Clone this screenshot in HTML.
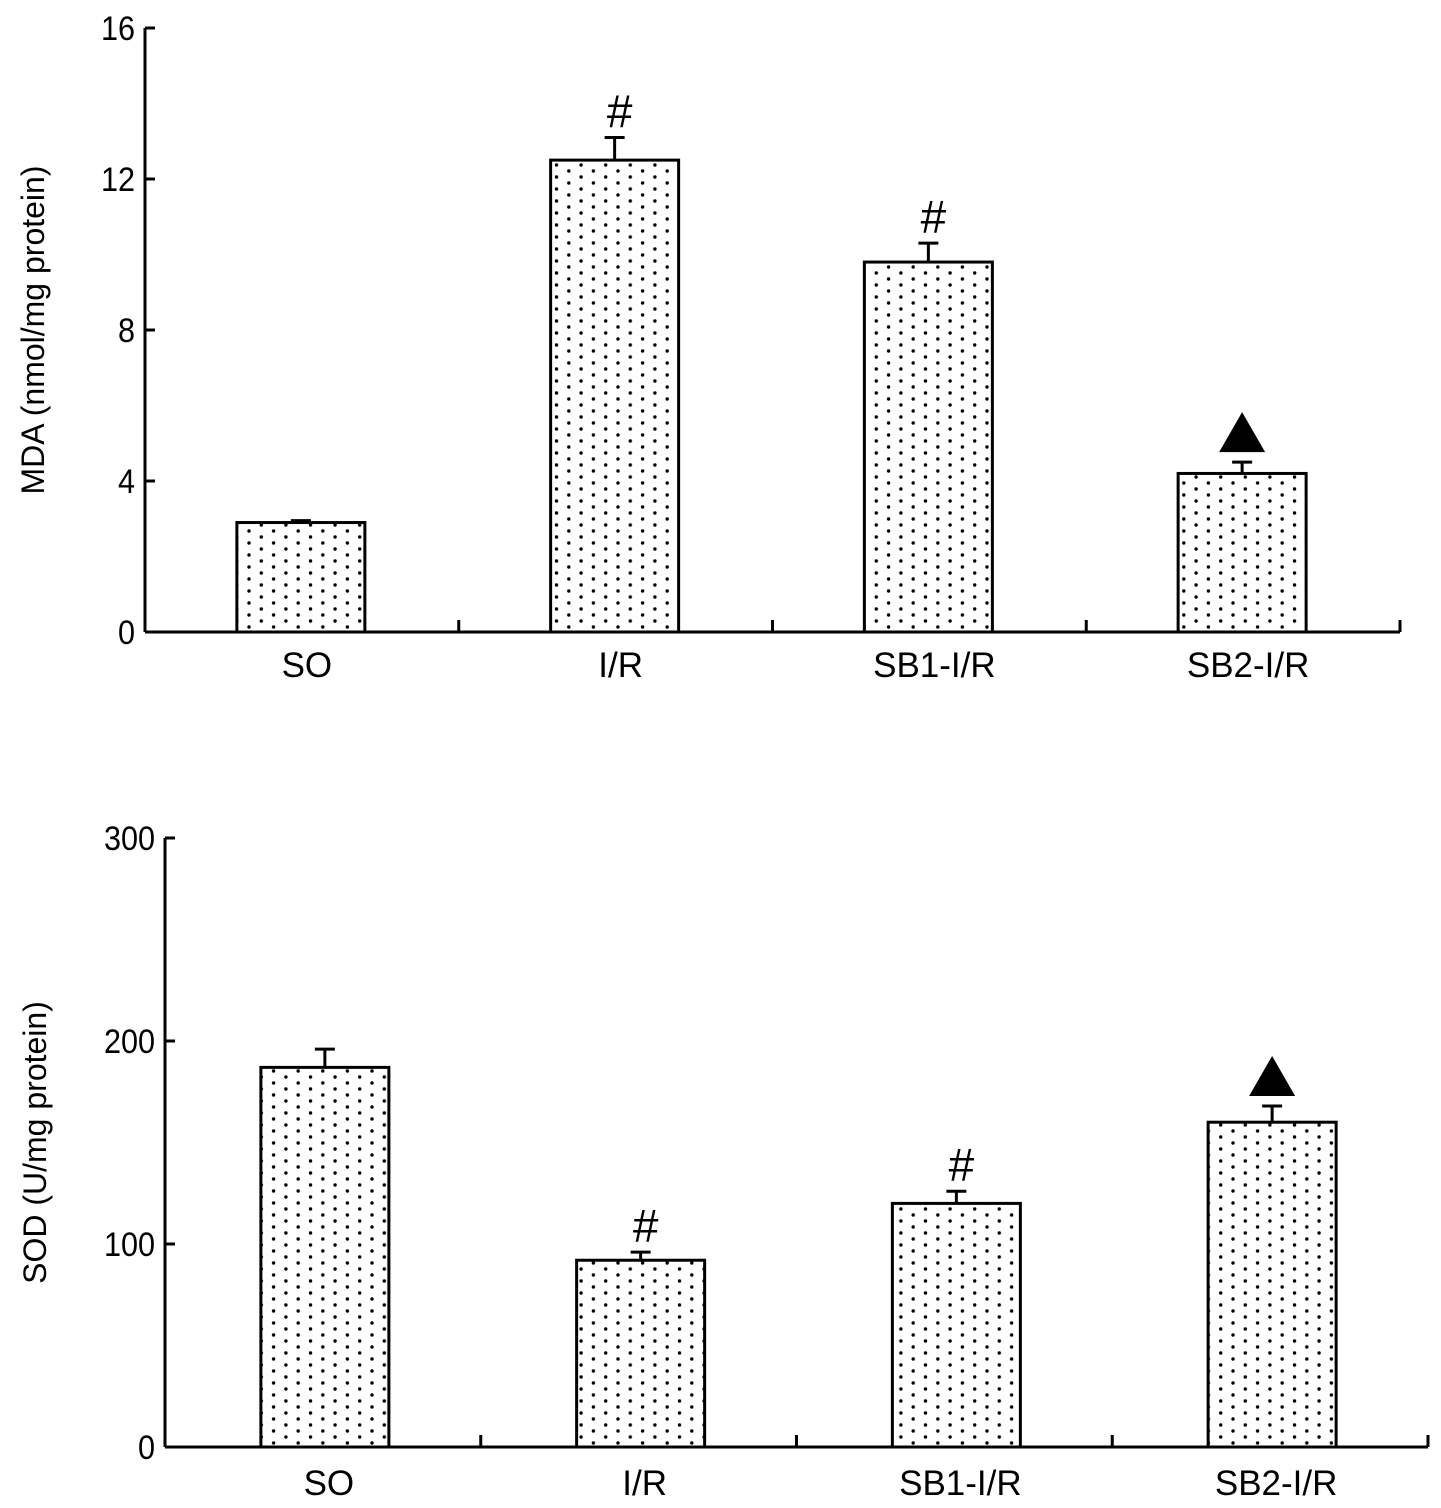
<!DOCTYPE html>
<html><head><meta charset="utf-8"><style>
html,body{margin:0;padding:0;background:#fff;}
svg{display:block;font-family:"Liberation Sans",sans-serif;}
</style></head><body>
<svg id="c" width="1441" height="1508" viewBox="0 0 1441 1508" xmlns="http://www.w3.org/2000/svg">
<defs>
<pattern id="dots" patternUnits="userSpaceOnUse" width="24.6" height="12" x="0" y="0">
<circle cx="3" cy="3" r="1.7" fill="#000"/>
<circle cx="15.3" cy="9" r="1.7" fill="#000"/>
</pattern>
</defs>
</svg>
<script>
const categories=["SO","I/R","SB1-I/R","SB2-I/R"];
const mdaValues=[2.9,12.5,9.8,4.2];
const mdaErrors=[0.05,0.6,0.5,0.3];
const mdaMarks=["","#","#","tri"];
const mdaTicks=[0,4,8,12,16];
const sodValues=[187,92,120,160];
const sodErrors=[9,4,6,8];
const sodMarks=["","#","#","tri"];
const sodTicks=[0,100,200,300];

const NS="http://www.w3.org/2000/svg";
const svg=document.getElementById('c');
function mk(tag,attrs,parent){const e=document.createElementNS(NS,tag);for(const k in attrs)e.setAttribute(k,attrs[k]);(parent||svg).appendChild(e);return e;}

function drawChart(cfg,name){
  const g=mk('g',{});
  
  
  const y=v=>cfg.y0-(v-cfg.vmin)/(cfg.vmax-cfg.vmin)*(cfg.y0-cfg.y1);
  const gw=(cfg.xEnd-cfg.x0)/categories.length;
  const x=i=>cfg.x0+gw*(i+0.5)+cfg.shift;
  const ya=mk('line',{x1:cfg.x0,y1:cfg.y1,x2:cfg.x0,y2:cfg.y0,stroke:'#000','stroke-width':3},g);
  
  
  const xa=mk('line',{x1:cfg.x0,y1:cfg.y0,x2:cfg.xEnd,y2:cfg.y0,stroke:'#000','stroke-width':3},g);
  
  
  cfg.ticks.forEach(t=>{
    const ty=y(t);
    mk('line',{x1:cfg.x0,y1:ty,x2:cfg.x0+10,y2:ty,stroke:'#000','stroke-width':3},g);
    const tl=mk('text',{x:cfg.x0-10,y:ty+12,'text-anchor':'end','font-size':34,transform:`translate(${cfg.x0-10},0) scale(0.9,1) translate(${-(cfg.x0-10)},0)`},g);
    tl.textContent=t;
    
    
  });
  for(let i=1;i<=categories.length;i++){
    const tx=cfg.x0+gw*i;
    mk('line',{x1:tx,y1:cfg.y0,x2:tx,y2:cfg.y0-12,stroke:'#000','stroke-width':3},g);
  }
  const title=mk('text',{transform:`translate(${cfg.titleX},${(cfg.y0+cfg.y1)/2}) rotate(-90)`,'text-anchor':'middle','font-size':32},g);
  title.textContent=cfg.title;
  
  
  categories.forEach((c,i)=>{
    const cx=x(i),top=y(cfg.values[i]),et=y(cfg.values[i]+cfg.errors[i]);
    const eb=mk('line',{x1:cx,y1:top,x2:cx,y2:et,stroke:'#000','stroke-width':3},g);
    
    
    mk('line',{x1:cx-10,y1:et,x2:cx+10,y2:et,stroke:'#000','stroke-width':3},g);
    const b=mk('rect',{x:cx-cfg.bw/2,y:top,width:cfg.bw,height:cfg.y0-top,fill:'url(#dots)',stroke:'#000','stroke-width':3},g);
    
    
    const l=mk('text',{x:cx+cfg.lblShift,y:cfg.y0+cfg.lblDy,'text-anchor':'middle','font-size':35},g);
    l.textContent=c;
    
    
    const m=cfg.marks[i];
    if(m==='#'){
      const h=mk('text',{x:cx+5,y:et-10,'text-anchor':'middle','font-size':46},g);
      h.textContent='#';
      
      
    }else if(m==='tri'){
      const b2=et-10;
      const p=mk('polygon',{points:`${cx-23},${b2} ${cx+23},${b2} ${cx},${b2-40}`,fill:'#000'},g);
      
      
    }
  });
}
drawChart({x0:145,xEnd:1400,y0:632,y1:28,vmin:0,vmax:16,ticks:mdaTicks,values:mdaValues,errors:mdaErrors,marks:mdaMarks,bw:128,shift:-1,lblShift:6,lblDy:45,title:'MDA (nmol/mg protein)',titleX:44},'mda-chart');
drawChart({x0:165,xEnd:1428,y0:1447,y1:838,vmin:0,vmax:300,ticks:sodTicks,values:sodValues,errors:sodErrors,marks:sodMarks,bw:128,shift:2,lblShift:4,lblDy:48,title:'SOD (U/mg protein)',titleX:46},'sod-chart');
</script>
</body></html>
